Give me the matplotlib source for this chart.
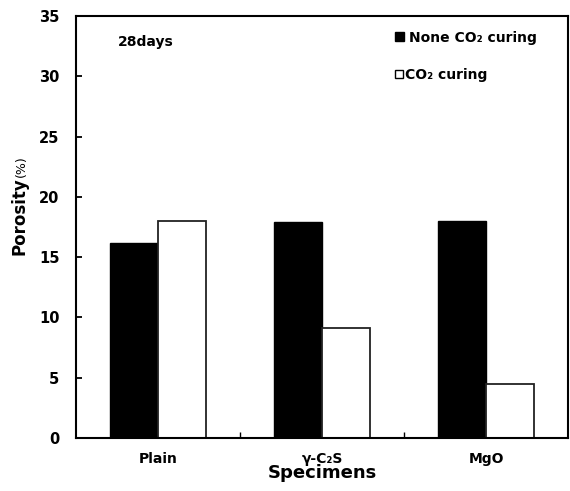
import numpy as np
import matplotlib
matplotlib.use('Agg')
import matplotlib.pyplot as plt
from matplotlib.patches import Rectangle

plt.rcParams['font.family'] = ['DejaVu Sans']

# data
specimens = ['Plain', 'γ-C₂S', 'MgO']
none_co2 = [16.2, 17.9, 18.0]
co2 = [18.0, 9.15, 4.5]

x = np.arange(len(specimens))
w = 0.29

fig = plt.figure(figsize=(5.7, 4.91), dpi=100)
ax = fig.add_axes([76 / 570, 1 - 438 / 491, 492 / 570, 422 / 491])

ax.bar(x - w / 2, none_co2, w, color='black', edgecolor='black', linewidth=1.0)
ax.bar(x + w / 2, co2, w, color='white', edgecolor='#222222', linewidth=1.3)

ax.set_xlim(-0.5, 2.5)
ax.set_ylim(0, 35)
ax.set_yticks(range(0, 36, 5))
ax.set_yticklabels([str(v) for v in range(0, 36, 5)], fontsize=10.5, fontweight='bold')
ax.tick_params(axis='y', direction='in', length=4, width=1.3, pad=12)

# category labels at centres, tick marks at category boundaries
ax.set_xticks(x)
ax.set_xticklabels(specimens, fontsize=10, fontweight='bold')
ax.tick_params(axis='x', which='major', length=0, pad=10)
ax.set_xticks([0.5, 1.5], minor=True)
ax.tick_params(axis='x', which='minor', direction='in', length=4, width=1.0)

for s in ax.spines.values():
    s.set_linewidth(1.5)

ax.set_xlabel('Specimens', fontsize=13, fontweight='bold', labelpad=-1)
fig.text(20 / 570, 1 - 216 / 491, 'Porosity', rotation=90, fontsize=12,
         fontweight='bold', ha='center', va='center')
fig.text(21 / 570, 1 - 166 / 491, '(%)', rotation=90, fontsize=9,
         ha='center', va='center')

fig.text(118 / 570, 1 - 42 / 491, '28days', fontsize=10, fontweight='bold', va='center')

# legend drawn as squares and text
fig.patches.append(Rectangle((395 / 570, 1 - 41 / 491), 9 / 570, 9 / 491,
                             transform=fig.transFigure, facecolor='black',
                             edgecolor='black', linewidth=1))
fig.patches.append(Rectangle((395 / 570, 1 - 78 / 491), 8 / 570, 8 / 491,
                             transform=fig.transFigure, facecolor='white',
                             edgecolor='black', linewidth=1))
fig.text(409 / 570, 1 - 38 / 491, 'None CO₂ curing', fontsize=10,
         fontweight='bold', va='center')
fig.text(405 / 570, 1 - 75 / 491, 'CO₂ curing', fontsize=10,
         fontweight='bold', va='center')

fig.savefig('out.png', dpi=100)
